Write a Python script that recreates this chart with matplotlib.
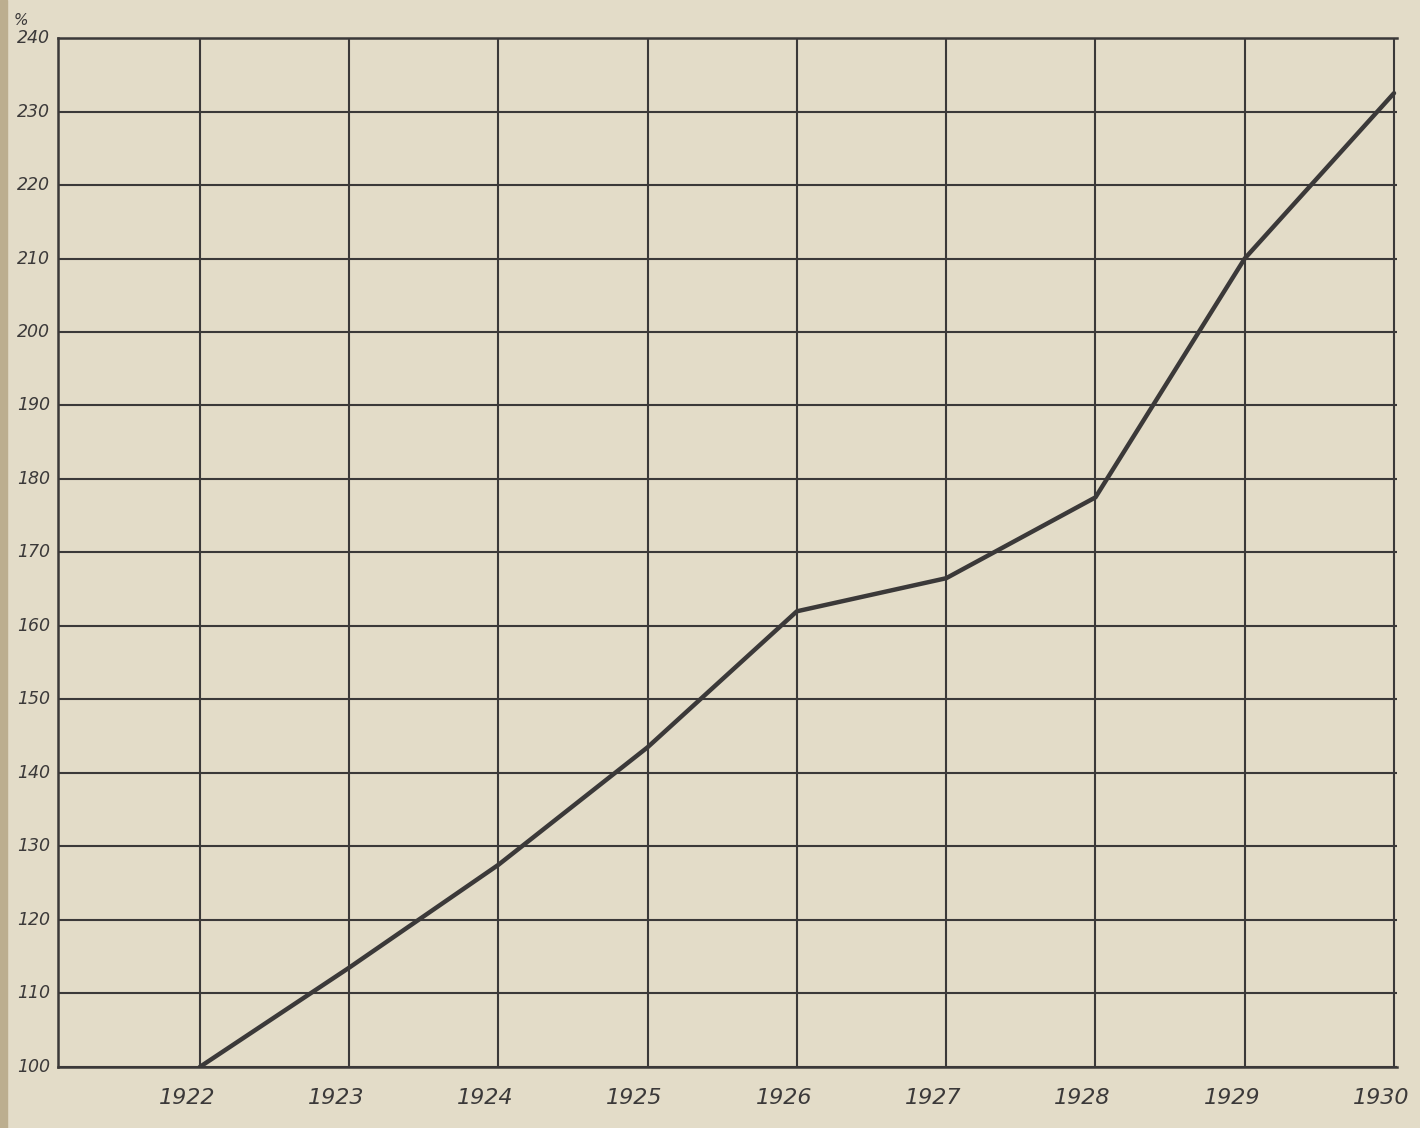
import matplotlib
matplotlib.use("Agg")
import matplotlib.pyplot as plt
import matplotlib.patches as patches
import matplotlib.transforms as mtransforms

years = [1922, 1923, 1924, 1925, 1926, 1927, 1928, 1929, 1930]
values = [100, 113.5, 127.5, 143.5, 162, 166.5, 177.5, 210, 232.5]
y_ticks = [100, 110, 120, 130, 140, 150, 160, 170, 180, 190, 200, 210, 220, 230, 240]

paper = "#e3dcc8"
ink = "#3b3939"

fig = plt.figure(figsize=(14.2, 11.28), dpi=100, facecolor=paper)
ax = fig.add_axes([0.0408, 0.0541, 0.9430, 0.9122])
ax.set_facecolor(paper)

# grid drawn by hand on the paper
for y in y_ticks:
    ax.axhline(y, color=ink, lw=1.5, zorder=1)
for x in years:
    ax.axvline(x, color=ink, lw=1.5, zorder=1)

ax.plot(years, values, color=ink, lw=3.2, solid_capstyle="round", zorder=3)

ax.set_xlim(1921.05, 1930.02)
ax.set_ylim(100, 240)
for s in ax.spines.values():
    s.set_color(ink)
    s.set_linewidth(1.8)
ax.spines["right"].set_visible(False)
ax.set_xticks([])
ax.set_yticks([])

font = dict(family="DejaVu Sans", style="italic", color=ink)

# y labels (left of frame)
ylab = mtransforms.blended_transform_factory(ax.transAxes, ax.transData)
for y in y_ticks:
    ax.text(-0.006, y, str(y), transform=ylab, ha="right", va="center",
            fontsize=12.5, clip_on=False, **font)
up = mtransforms.ScaledTranslation(0, 0.1, fig.dpi_scale_trans)
ax.text(-0.028, 1.0, "%", transform=ax.transAxes + up, ha="center", va="bottom",
        fontsize=11, clip_on=False, **font)

# x labels (below frame, a bit to the left of each line)
xlab = mtransforms.blended_transform_factory(ax.transData, ax.transAxes)
shift = mtransforms.ScaledTranslation(-0.13, 0, fig.dpi_scale_trans)
for x in years:
    ax.text(x, -0.03, str(x), transform=xlab + shift, ha="center", va="center",
            fontsize=16, clip_on=False, **font)

# dark binding edge on the left
fig.patches.append(patches.Rectangle((0, 0), 0.005, 1, transform=fig.transFigure,
                                     color="#bcae8f", zorder=0))

fig.savefig("out.png", dpi=100, facecolor=paper)
